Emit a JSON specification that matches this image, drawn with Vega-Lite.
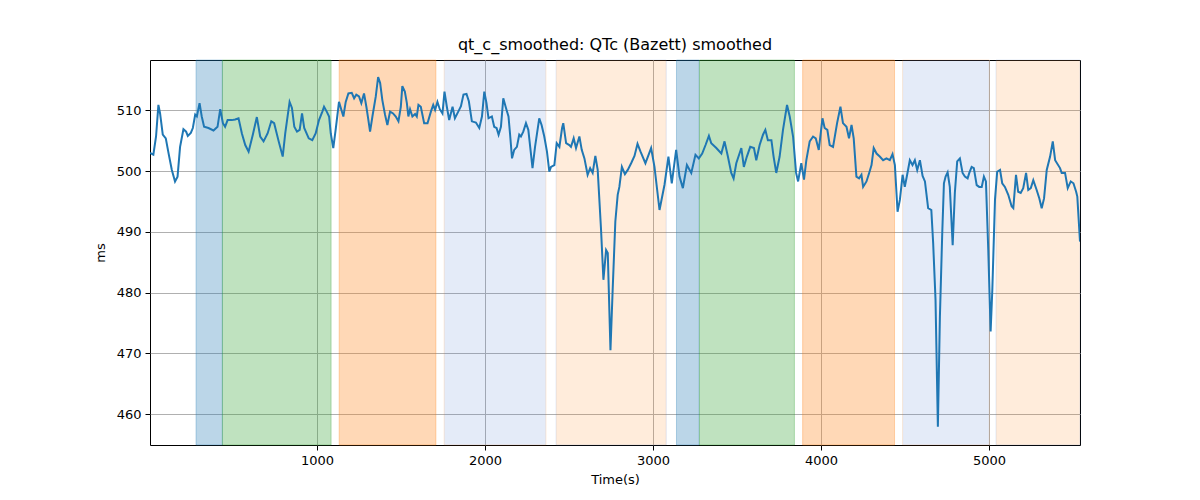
{
  "$schema": "https://vega.github.io/schema/vega-lite/v6.json",
  "description": "qt_c_smoothed: QTc (Bazett) smoothed, with shaded phases",
  "autosize": {"type": "none"},
  "padding": {"left": 150, "top": 60, "right": 120, "bottom": 55},
  "width": 930,
  "height": 385,
  "background": "white",
  "title": {
    "text": "qt_c_smoothed: QTc (Bazett) smoothed",
    "font": "DejaVu Sans",
    "fontSize": 16,
    "fontWeight": "normal",
    "color": "black",
    "anchor": "middle",
    "offset": 7
  },
  "datasets": {
    "phases": [
      {"start": 280, "end": 437, "phase": "blue", "strong": true},
      {"start": 437, "end": 1084, "phase": "green", "strong": true},
      {"start": 1132, "end": 1708, "phase": "orange", "strong": true},
      {"start": 1757, "end": 2363, "phase": "lightblue", "strong": false},
      {"start": 2423, "end": 3079, "phase": "lightorange", "strong": false},
      {"start": 3140, "end": 3275, "phase": "blue", "strong": true},
      {"start": 3277, "end": 3842, "phase": "green", "strong": true},
      {"start": 3891, "end": 4438, "phase": "orange", "strong": true},
      {"start": 4486, "end": 5002, "phase": "lightblue", "strong": false},
      {"start": 5042, "end": 5542, "phase": "lightorange", "strong": false}
    ],
    "qt": [
      {"t": 6, "v": 503.0},
      {"t": 26, "v": 502.7},
      {"t": 42, "v": 505.7},
      {"t": 56, "v": 510.9},
      {"t": 66, "v": 509.5},
      {"t": 82, "v": 506.0},
      {"t": 100, "v": 505.4},
      {"t": 116, "v": 503.0},
      {"t": 136, "v": 500.2},
      {"t": 155, "v": 498.3},
      {"t": 170, "v": 499.1},
      {"t": 185, "v": 504.0},
      {"t": 205, "v": 506.9},
      {"t": 221, "v": 506.5},
      {"t": 231, "v": 505.8},
      {"t": 249, "v": 506.3},
      {"t": 261, "v": 507.1},
      {"t": 275, "v": 509.3},
      {"t": 285, "v": 509.0},
      {"t": 301, "v": 511.2},
      {"t": 314, "v": 509.0},
      {"t": 328, "v": 507.3},
      {"t": 354, "v": 507.1},
      {"t": 384, "v": 506.7},
      {"t": 408, "v": 507.3},
      {"t": 424, "v": 510.2},
      {"t": 440, "v": 507.9},
      {"t": 453, "v": 507.3},
      {"t": 468, "v": 508.4},
      {"t": 493, "v": 508.4},
      {"t": 513, "v": 508.5},
      {"t": 533, "v": 508.7},
      {"t": 553, "v": 506.2},
      {"t": 573, "v": 504.3},
      {"t": 593, "v": 503.2},
      {"t": 618, "v": 506.0},
      {"t": 642, "v": 508.9},
      {"t": 662, "v": 505.7},
      {"t": 682, "v": 504.9},
      {"t": 706, "v": 506.2},
      {"t": 728, "v": 508.2},
      {"t": 745, "v": 507.9},
      {"t": 772, "v": 504.9},
      {"t": 796, "v": 502.4},
      {"t": 811, "v": 506.2},
      {"t": 837, "v": 511.4},
      {"t": 851, "v": 510.4},
      {"t": 865, "v": 507.3},
      {"t": 881, "v": 506.5},
      {"t": 897, "v": 506.8},
      {"t": 911, "v": 509.5},
      {"t": 924, "v": 507.1},
      {"t": 951, "v": 505.4},
      {"t": 972, "v": 505.1},
      {"t": 992, "v": 506.2},
      {"t": 1012, "v": 508.4},
      {"t": 1032, "v": 509.8},
      {"t": 1042, "v": 510.6},
      {"t": 1058, "v": 509.8},
      {"t": 1072, "v": 509.0},
      {"t": 1082, "v": 506.2},
      {"t": 1097, "v": 503.8},
      {"t": 1111, "v": 506.8},
      {"t": 1131, "v": 511.4},
      {"t": 1145, "v": 510.1},
      {"t": 1157, "v": 509.0},
      {"t": 1171, "v": 511.4},
      {"t": 1187, "v": 512.8},
      {"t": 1207, "v": 512.9},
      {"t": 1221, "v": 512.0},
      {"t": 1234, "v": 512.6},
      {"t": 1250, "v": 512.3},
      {"t": 1264, "v": 511.2},
      {"t": 1280, "v": 512.8},
      {"t": 1294, "v": 510.6},
      {"t": 1306, "v": 508.4},
      {"t": 1316, "v": 506.5},
      {"t": 1330, "v": 509.0},
      {"t": 1350, "v": 512.3},
      {"t": 1364, "v": 515.5},
      {"t": 1376, "v": 514.5},
      {"t": 1389, "v": 511.7},
      {"t": 1405, "v": 509.3},
      {"t": 1419, "v": 507.6},
      {"t": 1435, "v": 509.8},
      {"t": 1453, "v": 509.5},
      {"t": 1469, "v": 509.0},
      {"t": 1485, "v": 508.2},
      {"t": 1499, "v": 510.6},
      {"t": 1508, "v": 514.0},
      {"t": 1523, "v": 513.1},
      {"t": 1535, "v": 511.2},
      {"t": 1544, "v": 509.0},
      {"t": 1554, "v": 510.2},
      {"t": 1568, "v": 509.0},
      {"t": 1584, "v": 509.4},
      {"t": 1594, "v": 509.0},
      {"t": 1604, "v": 510.9},
      {"t": 1618, "v": 510.6},
      {"t": 1638, "v": 507.9},
      {"t": 1658, "v": 507.9},
      {"t": 1678, "v": 509.8},
      {"t": 1692, "v": 510.9},
      {"t": 1703, "v": 510.1},
      {"t": 1717, "v": 511.4},
      {"t": 1731, "v": 510.2},
      {"t": 1747, "v": 509.5},
      {"t": 1759, "v": 513.1},
      {"t": 1773, "v": 510.6},
      {"t": 1787, "v": 508.4},
      {"t": 1807, "v": 510.6},
      {"t": 1821, "v": 508.7},
      {"t": 1841, "v": 509.8},
      {"t": 1857, "v": 510.7},
      {"t": 1872, "v": 512.6},
      {"t": 1890, "v": 512.7},
      {"t": 1904, "v": 511.5},
      {"t": 1922, "v": 508.2},
      {"t": 1946, "v": 508.0},
      {"t": 1966, "v": 507.1},
      {"t": 1982, "v": 509.0},
      {"t": 1996, "v": 513.1},
      {"t": 2009, "v": 511.2},
      {"t": 2021, "v": 508.7},
      {"t": 2041, "v": 509.0},
      {"t": 2055, "v": 507.3},
      {"t": 2069, "v": 507.1},
      {"t": 2081, "v": 506.0},
      {"t": 2095, "v": 507.3},
      {"t": 2109, "v": 512.0},
      {"t": 2125, "v": 510.4},
      {"t": 2140, "v": 509.0},
      {"t": 2149, "v": 506.2},
      {"t": 2161, "v": 502.1},
      {"t": 2174, "v": 503.5},
      {"t": 2190, "v": 504.0},
      {"t": 2204, "v": 506.0},
      {"t": 2214, "v": 505.7},
      {"t": 2228, "v": 506.5},
      {"t": 2244, "v": 507.9},
      {"t": 2258, "v": 506.8},
      {"t": 2270, "v": 503.8},
      {"t": 2283, "v": 500.5},
      {"t": 2298, "v": 504.0},
      {"t": 2323, "v": 508.7},
      {"t": 2337, "v": 507.6},
      {"t": 2353, "v": 505.7},
      {"t": 2369, "v": 503.2},
      {"t": 2383, "v": 499.9},
      {"t": 2393, "v": 500.7},
      {"t": 2413, "v": 501.0},
      {"t": 2427, "v": 504.6},
      {"t": 2443, "v": 504.0},
      {"t": 2459, "v": 507.1},
      {"t": 2466, "v": 507.9},
      {"t": 2483, "v": 504.6},
      {"t": 2502, "v": 504.3},
      {"t": 2512, "v": 504.0},
      {"t": 2528, "v": 505.4},
      {"t": 2542, "v": 503.8},
      {"t": 2562, "v": 505.7},
      {"t": 2576, "v": 503.5},
      {"t": 2592, "v": 502.1},
      {"t": 2611, "v": 499.4},
      {"t": 2626, "v": 500.5},
      {"t": 2641, "v": 499.7},
      {"t": 2657, "v": 502.5},
      {"t": 2671, "v": 500.2},
      {"t": 2691, "v": 490.3},
      {"t": 2705, "v": 482.1},
      {"t": 2721, "v": 487.0},
      {"t": 2731, "v": 486.5},
      {"t": 2747, "v": 470.5},
      {"t": 2760, "v": 480.4},
      {"t": 2776, "v": 491.7},
      {"t": 2790, "v": 496.1},
      {"t": 2800, "v": 497.4},
      {"t": 2815, "v": 500.7},
      {"t": 2833, "v": 499.5},
      {"t": 2850, "v": 500.2},
      {"t": 2870, "v": 501.3},
      {"t": 2890, "v": 502.5},
      {"t": 2908, "v": 504.5},
      {"t": 2926, "v": 503.2},
      {"t": 2955, "v": 501.3},
      {"t": 2989, "v": 503.8},
      {"t": 3009, "v": 500.7},
      {"t": 3039, "v": 493.6},
      {"t": 3069, "v": 497.8},
      {"t": 3092, "v": 502.4},
      {"t": 3112, "v": 498.0},
      {"t": 3138, "v": 503.5},
      {"t": 3158, "v": 499.1},
      {"t": 3178, "v": 497.2},
      {"t": 3202, "v": 501.0},
      {"t": 3228, "v": 499.7},
      {"t": 3253, "v": 502.7},
      {"t": 3273, "v": 502.1},
      {"t": 3293, "v": 502.9},
      {"t": 3313, "v": 504.3},
      {"t": 3333, "v": 505.8},
      {"t": 3347, "v": 504.6},
      {"t": 3377, "v": 503.8},
      {"t": 3407, "v": 502.9},
      {"t": 3426, "v": 504.9},
      {"t": 3446, "v": 502.4},
      {"t": 3466, "v": 499.7},
      {"t": 3480, "v": 498.8},
      {"t": 3496, "v": 501.3},
      {"t": 3526, "v": 503.8},
      {"t": 3541, "v": 500.7},
      {"t": 3559, "v": 502.4},
      {"t": 3579, "v": 504.0},
      {"t": 3601, "v": 503.8},
      {"t": 3615, "v": 501.8},
      {"t": 3635, "v": 504.3},
      {"t": 3655, "v": 506.0},
      {"t": 3669, "v": 506.8},
      {"t": 3684, "v": 505.1},
      {"t": 3705, "v": 505.1},
      {"t": 3718, "v": 502.4},
      {"t": 3734, "v": 499.7},
      {"t": 3754, "v": 502.4},
      {"t": 3774, "v": 506.8},
      {"t": 3798, "v": 510.9},
      {"t": 3814, "v": 509.0},
      {"t": 3834, "v": 505.7},
      {"t": 3852, "v": 499.7},
      {"t": 3864, "v": 498.3},
      {"t": 3883, "v": 501.3},
      {"t": 3899, "v": 498.6},
      {"t": 3913, "v": 501.8},
      {"t": 3933, "v": 504.9},
      {"t": 3953, "v": 505.7},
      {"t": 3969, "v": 505.4},
      {"t": 3987, "v": 503.5},
      {"t": 4009, "v": 508.7},
      {"t": 4022, "v": 507.1},
      {"t": 4038, "v": 506.8},
      {"t": 4052, "v": 504.3},
      {"t": 4072, "v": 504.0},
      {"t": 4096, "v": 507.9},
      {"t": 4116, "v": 510.6},
      {"t": 4131, "v": 507.9},
      {"t": 4152, "v": 507.3},
      {"t": 4167, "v": 505.4},
      {"t": 4182, "v": 507.6},
      {"t": 4195, "v": 505.4},
      {"t": 4211, "v": 499.1},
      {"t": 4227, "v": 498.8},
      {"t": 4241, "v": 499.4},
      {"t": 4251, "v": 497.4},
      {"t": 4271, "v": 498.3},
      {"t": 4287, "v": 499.7},
      {"t": 4301, "v": 501.0},
      {"t": 4314, "v": 503.8},
      {"t": 4331, "v": 502.9},
      {"t": 4350, "v": 502.4},
      {"t": 4370, "v": 501.8},
      {"t": 4390, "v": 502.1},
      {"t": 4410, "v": 501.8},
      {"t": 4426, "v": 502.8},
      {"t": 4440, "v": 501.0},
      {"t": 4456, "v": 493.3},
      {"t": 4470, "v": 495.3},
      {"t": 4486, "v": 499.4},
      {"t": 4499, "v": 497.4},
      {"t": 4513, "v": 499.4},
      {"t": 4529, "v": 501.8},
      {"t": 4545, "v": 501.0},
      {"t": 4559, "v": 501.8},
      {"t": 4573, "v": 500.2},
      {"t": 4589, "v": 501.8},
      {"t": 4605, "v": 499.2},
      {"t": 4619, "v": 498.3},
      {"t": 4638, "v": 493.9},
      {"t": 4657, "v": 493.6},
      {"t": 4668, "v": 488.1},
      {"t": 4682, "v": 478.8},
      {"t": 4696, "v": 457.9},
      {"t": 4708, "v": 476.0},
      {"t": 4722, "v": 489.8},
      {"t": 4732, "v": 498.0},
      {"t": 4742, "v": 499.1},
      {"t": 4754, "v": 499.8},
      {"t": 4767, "v": 497.4},
      {"t": 4784, "v": 487.8},
      {"t": 4797, "v": 496.4},
      {"t": 4811, "v": 501.6},
      {"t": 4827, "v": 502.1},
      {"t": 4843, "v": 499.7},
      {"t": 4857, "v": 499.1},
      {"t": 4873, "v": 498.8},
      {"t": 4883, "v": 499.7},
      {"t": 4897, "v": 500.7},
      {"t": 4910, "v": 500.5},
      {"t": 4927, "v": 497.7},
      {"t": 4942, "v": 497.4},
      {"t": 4957, "v": 497.4},
      {"t": 4970, "v": 499.1},
      {"t": 4982, "v": 498.3},
      {"t": 4996, "v": 487.0},
      {"t": 5010, "v": 473.6},
      {"t": 5020, "v": 480.4},
      {"t": 5036, "v": 495.3},
      {"t": 5049, "v": 499.9},
      {"t": 5066, "v": 500.2},
      {"t": 5079, "v": 498.0},
      {"t": 5095, "v": 497.4},
      {"t": 5115, "v": 496.1},
      {"t": 5135, "v": 494.2},
      {"t": 5145, "v": 493.9},
      {"t": 5161, "v": 499.4},
      {"t": 5174, "v": 496.6},
      {"t": 5189, "v": 496.4},
      {"t": 5204, "v": 497.2},
      {"t": 5221, "v": 499.7},
      {"t": 5234, "v": 496.9},
      {"t": 5249, "v": 497.2},
      {"t": 5264, "v": 498.5},
      {"t": 5284, "v": 496.9},
      {"t": 5300, "v": 495.5},
      {"t": 5314, "v": 493.9},
      {"t": 5328, "v": 495.5},
      {"t": 5344, "v": 500.2},
      {"t": 5364, "v": 502.4},
      {"t": 5380, "v": 504.9},
      {"t": 5394, "v": 501.8},
      {"t": 5423, "v": 500.5},
      {"t": 5433, "v": 499.7},
      {"t": 5453, "v": 499.7},
      {"t": 5469, "v": 497.2},
      {"t": 5487, "v": 498.3},
      {"t": 5503, "v": 498.0},
      {"t": 5519, "v": 496.6},
      {"t": 5526, "v": 495.8},
      {"t": 5542, "v": 488.4}
    ]
  },
  "layer": [
    {
      "data": {"name": "phases"},
      "transform": [{"filter": "datum.strong"}],
      "mark": {"type": "rect", "fillOpacity": 0.3, "strokeOpacity": 0.3, "strokeWidth": 1},
      "encoding": {
        "x": {"field": "start", "type": "quantitative"},
        "x2": {"field": "end"},
        "fill": {
          "field": "phase",
          "type": "nominal",
          "legend": null,
          "scale": {
            "domain": ["blue", "green", "orange", "lightblue", "lightorange"],
            "range": ["#1f77b4", "#2ca02c", "#ff7f0e", "#4a7bd0", "#ff7f0e"]
          }
        },
        "stroke": {"field": "phase", "type": "nominal", "legend": null}
      }
    },
    {
      "data": {"name": "phases"},
      "transform": [{"filter": "!datum.strong"}],
      "mark": {"type": "rect", "fillOpacity": 0.15, "strokeOpacity": 0.15, "strokeWidth": 1},
      "encoding": {
        "x": {"field": "start", "type": "quantitative"},
        "x2": {"field": "end"},
        "fill": {"field": "phase", "type": "nominal", "legend": null},
        "stroke": {"field": "phase", "type": "nominal", "legend": null}
      }
    },
    {
      "data": {"name": "qt"},
      "mark": {"type": "line", "color": "#1f77b4", "strokeWidth": 2, "clip": true},
      "encoding": {
        "x": {
          "field": "t",
          "type": "quantitative",
          "title": "Time(s)",
          "scale": {"domain": [6, 5542], "nice": false, "zero": false},
          "axis": {"values": [1000, 2000, 3000, 4000, 5000], "format": "d"}
        },
        "y": {
          "field": "v",
          "type": "quantitative",
          "title": "ms",
          "scale": {"domain": [454.9, 518.3], "nice": false, "zero": false},
          "axis": {"values": [460, 470, 480, 490, 500, 510], "format": "d"}
        }
      }
    }
  ],
  "resolve": {"scale": {"fill": "shared", "stroke": "shared"}},
  "config": {
    "font": "DejaVu Sans",
    "view": {"stroke": "black", "strokeWidth": 1},
    "range": {"category": ["#1f77b4", "#2ca02c", "#ff7f0e", "#4a7bd0", "#ff7f0e"]},
    "axis": {
      "grid": true,
      "gridColor": "#b0b0b0",
      "gridWidth": 1,
      "gridOpacity": 1,
      "domain": false,
      "tickColor": "black",
      "tickSize": 5,
      "tickWidth": 1,
      "labelFont": "DejaVu Sans",
      "labelFontSize": 13,
      "labelColor": "black",
      "labelPadding": 4,
      "titleFont": "DejaVu Sans",
      "titleFontSize": 13,
      "titleFontWeight": "normal",
      "titleColor": "black"
    },
    "axisX": {"titlePadding": 6},
    "axisY": {"titlePadding": 9, "labelPadding": 4}
  }
}
